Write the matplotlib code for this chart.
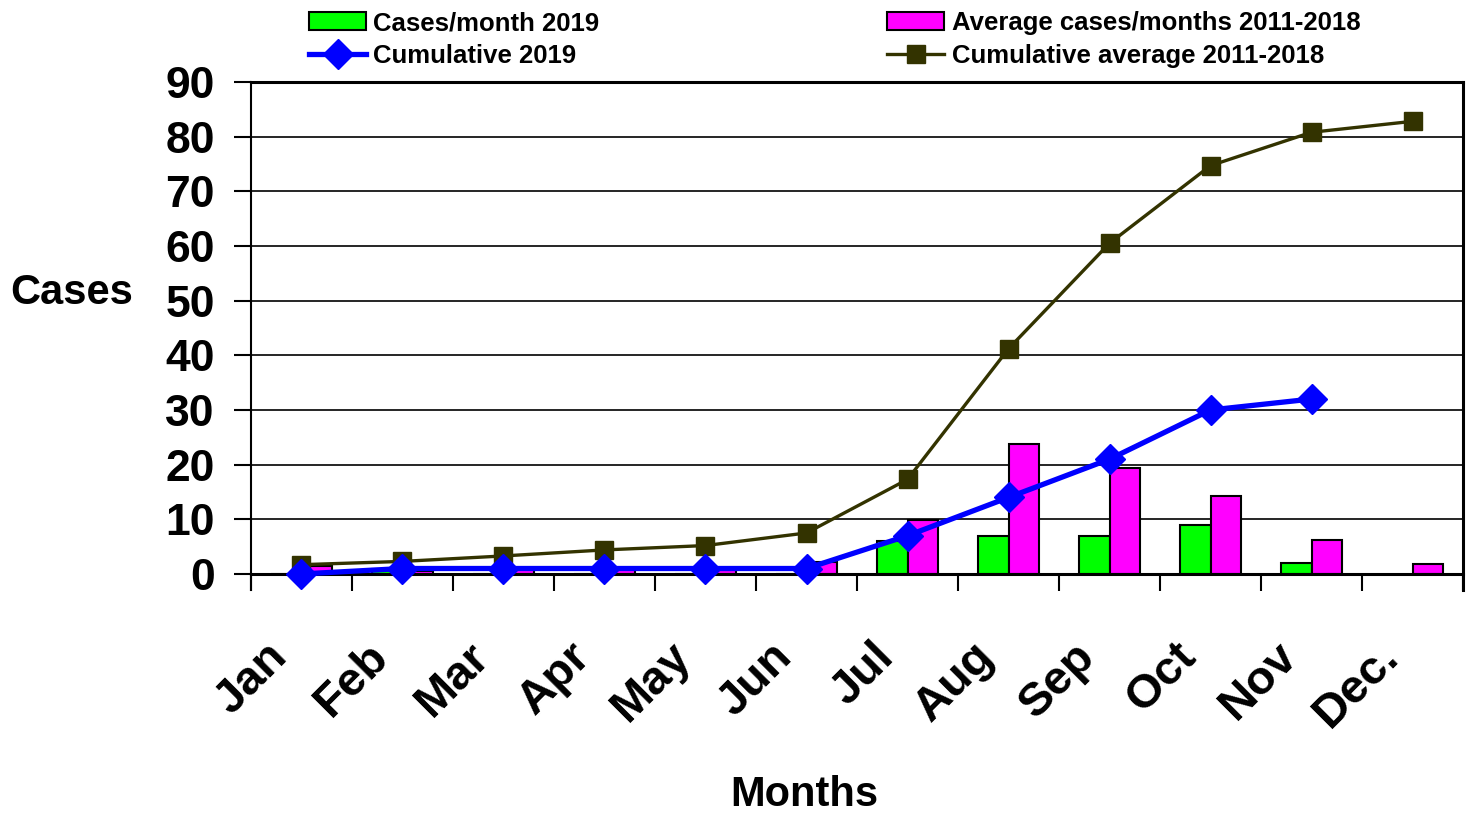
import matplotlib
matplotlib.use("Agg")
import matplotlib.pyplot as plt
import matplotlib.transforms as mtransforms
import numpy as np

plt.rcParams['font.family'] = ['Liberation Sans', 'DejaVu Sans']
plt.rcParams['font.weight'] = 'bold'

# data
months = ["Jan", "Feb", "Mar", "Apr", "May", "Jun", "Jul", "Aug", "Sep", "Oct", "Nov", "Dec."]
cases_2019 = [0, 1, 0, 0, 0, 0, 6, 7, 7, 9, 2, np.nan]
avg_2011_2018 = [1.5, 0.6, 1.0, 1.1, 0.8, 2.2, 9.8, 23.8, 19.3, 14.2, 6.2, 1.8]
cum_2019 = [0, 1, 1, 1, 1, 1, 7, 14, 21, 30, 32, np.nan]
cum_avg = [1.7, 2.3, 3.3, 4.4, 5.2, 7.5, 17.3, 41.2, 60.5, 74.7, 80.8, 82.8]

x = np.arange(len(months))
w = 0.3

fig = plt.figure(figsize=(14.71, 8.14), dpi=100)
ax = fig.add_axes([0.1706, 0.2752, 0.8240, 0.6241])

# grid lines
ax.set_axisbelow(True)
ax.yaxis.grid(True, color="black", linewidth=1.2)

b1 = ax.bar(x - w / 2, cases_2019, w, color="#00ff00", edgecolor="black", linewidth=1.5,
            label="Cases/month 2019")
b2 = ax.bar(x + w / 2, avg_2011_2018, w, color="#ff00ff", edgecolor="black", linewidth=1.5,
            label="Average cases/months 2011-2018")
l2, = ax.plot(x, cum_avg, color="#333300", linewidth=2.4, marker="s", markersize=12.5,
              label="Cumulative average 2011-2018", zorder=4)
l1, = ax.plot(x, cum_2019, color="#0000ff", linewidth=3.8, marker="D", markersize=15,
              label="Cumulative 2019", zorder=5)

ax.set_xlim(-0.5, len(months) - 0.5)
ax.set_ylim(-2.93, 90)
ax.set_yticks(np.arange(0, 91, 10))

# category boundary ticks, month names drawn below each category centre
ax.set_xticks(np.arange(len(months) + 1) - 0.5)
ax.set_xticklabels([])
ax.tick_params(axis="x", direction="out", length=12, width=1.5)
ax.tick_params(axis="y", direction="out", length=12, width=1.5, pad=14, labelsize=32)
for t in ax.get_yticklabels():
    t.set_fontweight("bold")

offset = mtransforms.ScaledTranslation(-0.21, -0.76, fig.dpi_scale_trans)
for i, m in enumerate(months):
    ax.text(x[i], 0, m, transform=ax.transData + offset, rotation=45,
            rotation_mode="anchor", ha="right", va="center", fontsize=34, fontweight="bold")

ax.spines["bottom"].set_position(("data", 0))
ax.spines["bottom"].set_linewidth(2.2)
ax.spines["left"].set_linewidth(1.5)
ax.spines["right"].set_linewidth(2.2)
ax.spines["top"].set_linewidth(2.2)

ax.set_ylabel("Cases", rotation=0, fontsize=30, fontweight="bold")
ax.yaxis.set_label_coords(-0.148, 0.545)
fig.text(0.547, 0.023, "Months", ha="center", va="center", fontsize=30, fontweight="bold")

ax.legend(handles=[b1[0], l1, b2[0], l2],
          labels=["Cases/month 2019", "Cumulative 2019",
                  "Average cases/months 2011-2018", "Cumulative average 2011-2018"],
          ncol=2, loc="upper left", bbox_to_anchor=(0.198, 1.008), bbox_transform=fig.transFigure,
          frameon=False, fontsize=18.5, handlelength=2.2, handletextpad=0.3,
          columnspacing=11.2, borderpad=0.2, labelspacing=0.32)

fig.savefig("out.png", dpi=100)
